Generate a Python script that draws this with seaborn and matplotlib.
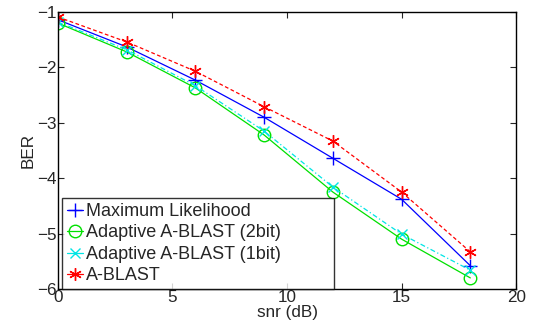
import matplotlib
matplotlib.use("Agg")
import matplotlib.pyplot as plt
import numpy as np
import pandas as pd
import seaborn as sns

sns.set_style("ticks")
plt.rcParams["font.family"] = ["Liberation Sans", "DejaVu Sans"]
plt.rcParams["axes.unicode_minus"] = True

# ==============================================================================
# DATA
# ==============================================================================
snr = [0, 3, 6, 9, 12, 15, 18]
ml = [-1.14, -1.63, -2.23, -2.90, -3.64, -4.38, -5.58]
adapt_2bit = [-1.20, -1.72, -2.37, -3.22, -4.25, -5.10, -5.80]
adapt_1bit = [-1.18, -1.68, -2.33, -3.15, -4.16, -5.01, -5.66]
ablast = [-1.09, -1.54, -2.07, -2.71, -3.33, -4.25, -5.33]

labels = [
    "Maximum Likelihood",
    "Adaptive A-BLAST (2bit)",
    "Adaptive A-BLAST (1bit)",
    "A-BLAST",
]
series = [ml, adapt_2bit, adapt_1bit, ablast]

df = pd.concat(
    [pd.DataFrame({"snr": snr, "BER": vals, "scheme": lab})
     for lab, vals in zip(labels, series)],
    ignore_index=True,
)

# ==============================================================================
# PLOT
# ==============================================================================
fig, ax = plt.subplots(figsize=(5.36, 3.24), dpi=100)
fig.subplots_adjust(left=0.108, right=0.963, top=0.963, bottom=0.108)

styles = {
    "Maximum Likelihood": dict(color="#0000ff", marker="+", linestyle="-",
                               markersize=10),
    "Adaptive A-BLAST (2bit)": dict(color="#00e000", marker="o", linestyle="-",
                                    markersize=9),
    "Adaptive A-BLAST (1bit)": dict(color="#00e5e5", marker="x",
                                    linestyle=(0, (4, 2, 1, 2)), markersize=7),
    "A-BLAST": dict(color="#ff0000", marker=(6, 2, 0), linestyle=(0, (3, 2)),
                    markersize=9),
}

for lab in labels:
    st = styles[lab]
    sns.lineplot(
        data=df[df["scheme"] == lab],
        x="snr",
        y="BER",
        ax=ax,
        color=st["color"],
        marker=st["marker"],
        markersize=st["markersize"],
        markerfacecolor="none",
        markeredgecolor=st["color"],
        markeredgewidth=1.0,
        linewidth=0.9,
        linestyle=st["linestyle"],
        label=lab,
    )

ax.set_xlim(0, 20)
ax.set_ylim(-6, -1)
ax.set_xticks([0, 5, 10, 15, 20])
ax.set_yticks([-6, -5, -4, -3, -2, -1])
ax.tick_params(direction="in", top=True, right=True, labelsize=12.3, length=4,
               width=0.8, pad=1)
for sp in ax.spines.values():
    sp.set_visible(True)
    sp.set_linewidth(1.0)
    sp.set_color("black")

ax.set_xlabel("snr (dB)", fontsize=12.3, labelpad=0)
ax.set_ylabel("BER", fontsize=12.3, labelpad=1)

leg = ax.legend(
    loc="lower left",
    mode="expand",
    fontsize=13,
    frameon=True,
    fancybox=False,
    edgecolor="black",
    borderaxespad=0.0,
    handlelength=0.9,
    handletextpad=0.2,
    labelspacing=0.25,
    borderpad=0.25,
    bbox_to_anchor=(0.009, 0.0, 0.594, 0.3),
)
leg.get_frame().set_linewidth(1.0)
for line in leg.get_lines():
    line.set_linestyle("-")

fig.savefig("out.png", dpi=100)
